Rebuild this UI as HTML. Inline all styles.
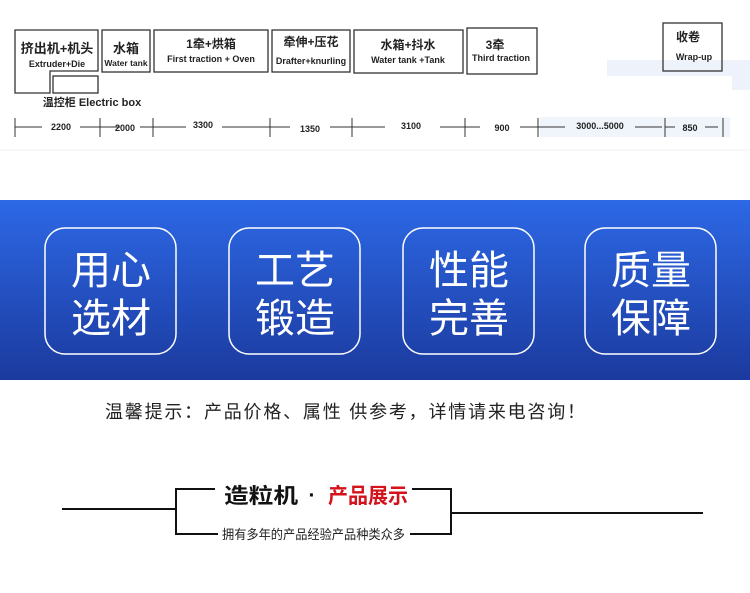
<!DOCTYPE html>
<html><head><meta charset="utf-8"><style>
body{margin:0;width:750px;height:588px;overflow:hidden;background:#fff;font-family:"Liberation Sans","Noto Sans CJK SC",sans-serif}
</style></head><body>
<svg width="750" height="588" viewBox="0 0 750 588" xmlns="http://www.w3.org/2000/svg" font-family="Liberation Sans, Noto Sans CJK SC, sans-serif">
<defs><linearGradient id="g" x1="0" y1="0" x2="0" y2="1"><stop offset="0" stop-color="#2d68e6"/><stop offset="1" stop-color="#1b3a9e"/></linearGradient></defs>
<rect x="607" y="60" width="143" height="16" fill="#eef3fb"/>
<rect x="732" y="76" width="18" height="14" fill="#eef3fb"/>
<rect x="540" y="117" width="190" height="20" fill="#f0f5fb"/>
<line x1="0" y1="150" x2="750" y2="150" stroke="#f2f2f2"/>
<g fill="none" stroke="#333" stroke-width="1.3">
<path d="M15 30H98V71H50V93H15Z"/>
<rect x="53" y="76" width="45" height="17"/>
<rect x="102" y="30" width="48" height="42"/>
<rect x="154" y="30" width="114" height="42"/>
<rect x="272" y="30" width="78" height="42"/>
<rect x="354" y="30" width="109" height="43"/>
<rect x="467" y="28" width="70" height="46"/>
<rect x="663" y="23" width="59" height="48"/>
</g>
<g font-weight="bold" fill="#222" text-anchor="middle">
<text x="57" y="53" font-size="13">挤出机+机头</text><text x="57" y="67" font-size="9">Extruder+Die</text>
<text x="126" y="53" font-size="13">水箱</text><text x="126" y="66" font-size="8.5">Water tank</text>
<text x="211" y="48" font-size="12">1牵+烘箱</text><text x="211" y="62" font-size="9">First traction + Oven</text>
<text x="311" y="46" font-size="12">牵伸+压花</text><text x="311" y="64" font-size="9">Drafter+knurling</text>
<text x="408" y="49" font-size="12">水箱+抖水</text><text x="408" y="63" font-size="9">Water tank +Tank</text>
<text x="495" y="49" font-size="12">3牵</text><text x="501" y="61" font-size="9">Third traction</text>
<text x="688" y="41" font-size="12">收卷</text><text x="694" y="60" font-size="9">Wrap-up</text>
<text x="92" y="106" font-size="11">温控柜 Electric box</text>
</g>
<g stroke="#333" stroke-width="1">
<path d="M15 118V137M100 118V137M153 118V137M270 118V137M352 118V137M465 118V137M538 118V137M665 118V137M723 118V137"/>
<path d="M15 127H42M80 127H100 120 M100 127H110M140 127H153M153 127H186M222 127H260M260 127H270M270 127H290M330 127H352M352 127H385M440 127H465M465 127H480M520 127H538M538 127H565M635 127H662M665 127H675M705 127H718"/>
</g>
<g font-size="9" font-weight="bold" fill="#222" text-anchor="middle">
<text x="61" y="130">2200</text><text x="125" y="131">2000</text><text x="203" y="128">3300</text><text x="310" y="132">1350</text><text x="411" y="129">3100</text><text x="502" y="131">900</text><text x="600" y="129">3000...5000</text><text x="690" y="131">850</text>
</g>
<rect x="0" y="200" width="750" height="180" fill="url(#g)"/>
<g fill="none" stroke="#fff" stroke-width="1.5">
<rect x="45" y="228" width="131" height="126" rx="20"/>
<rect x="229" y="228" width="131" height="126" rx="20"/>
<rect x="403" y="228" width="131" height="126" rx="20"/>
<rect x="585" y="228" width="131" height="126" rx="20"/>
</g>
<g fill="#fff" font-size="40" text-anchor="middle">
<text x="111" y="284">用心</text><text x="111" y="332">选材</text>
<text x="295" y="284">工艺</text><text x="295" y="332">锻造</text>
<text x="469" y="284">性能</text><text x="469" y="332">完善</text>
<text x="651" y="284">质量</text><text x="651" y="332">保障</text>
</g>
<text x="105" y="418" font-size="18" fill="#222" textLength="480" lengthAdjust="spacing">温馨提示：产品价格、属性  供参考，详情请来电咨询！</text>
<g stroke="#111" stroke-width="2" fill="none">
<path d="M62 509H176M215 489H176V534H218"/>
<path d="M412 489H451V534H410M451 513H703"/>
</g>
<text x="224" y="503" font-size="21" font-weight="bold" fill="#111" textLength="74" lengthAdjust="spacingAndGlyphs">造粒机</text>
<text x="312" y="502" font-size="21" font-weight="bold" fill="#111" text-anchor="middle">·</text>
<text x="328" y="503" font-size="21" font-weight="bold" fill="#d4121b" textLength="80" lengthAdjust="spacingAndGlyphs">产品展示</text>
<text x="222" y="539" font-size="13" fill="#222" textLength="183" lengthAdjust="spacingAndGlyphs">拥有多年的产品经验产品种类众多</text>
</svg>
</body></html>
